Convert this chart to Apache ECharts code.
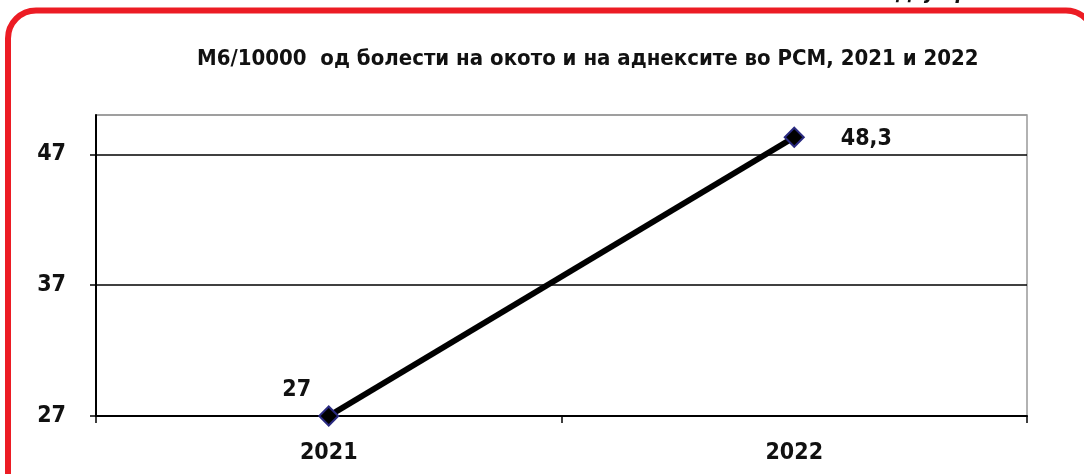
<!DOCTYPE html>
<html>
<head>
<meta charset="utf-8">
<script src="https://cdn.jsdelivr.net/npm/echarts@6/dist/echarts.min.js"></script>
<style>
  html, body { margin: 0; padding: 0; background: #fff; }
  #chart { width: 1084px; height: 474px; }
</style>
</head>
<body>
<div id="chart"></div>
<script>
// data
const years = ["2021", "2022"];
const values = [27, 48.3];
const yTicks = [27, 37, 47];

const font = "'DejaVu Sans Condensed', sans-serif";

const chart = echarts.init(document.getElementById("chart"));

const option = {
  animation: false,
  backgroundColor: "#fff",
  textStyle: { fontFamily: font },
  title: {
    text: "М6/10000  од болести на окото и на аднексите во РСМ, 2021 и 2022",
    left: 192,
    top: 43,
    textStyle: { fontSize: 22, fontWeight: "bold", color: "#111", fontFamily: font },
  },
  graphic: [
    {
      type: "rect",
      shape: { x: 8, y: 10.5, width: 1086, height: 500, r: 28 },
      style: { fill: "none", stroke: "#ec1c24", lineWidth: 6 },
      silent: true,
    },
    {
      type: "text",
      right: 54,
      top: -17,
      style: {
        text: "Дијаграм 18",
        font: "italic bold 21px " + font,
        fill: "#111",
      },
    },
  ],
  grid: {
    left: 96,
    right: 57,
    top: 115,
    bottom: 58,
    show: true,
    borderColor: "#999",
    borderWidth: 1.5,
  },
  xAxis: {
    type: "category",
    data: years,
    boundaryGap: true,
    axisLine: { lineStyle: { color: "#000", width: 2 } },
    axisTick: { show: true, length: 7, lineStyle: { color: "#000", width: 1.5 } },
    axisLabel: { color: "#111", fontSize: 23, fontWeight: "bold", margin: 26, fontFamily: font },
  },
  yAxis: {
    type: "value",
    min: yTicks[0],
    max: 50,
    interval: 10,
    axisLine: { show: true, lineStyle: { color: "#000", width: 2 } },
    axisTick: { show: true, length: 6, inside: false, lineStyle: { color: "#000", width: 1.5 } },
    axisLabel: {
      color: "#111",
      fontSize: 23,
      fontWeight: "bold",
      margin: 30,
      showMaxLabel: false,
      fontFamily: font,
    },
    splitLine: {
      show: true,
      lineStyle: { color: ["#000", "#000", "#000", "#999"], width: 1.5 },
    },
  },
  series: [
    {
      type: "line",
      data: values.map((v, i) => ({
        value: v,
        label: i === 0
          ? { position: "top", offset: [-32, 1] }
          : { position: "right", distance: 36, offset: [0, 2] },
      })),
      symbol: "diamond",
      symbolSize: 19,
      lineStyle: { color: "#000", width: 6 },
      itemStyle: { color: "#000", borderColor: "#2a2a80", borderWidth: 2 },
      label: {
        show: true,
        color: "#111",
        fontSize: 23,
        fontWeight: "bold",
        fontFamily: font,
        formatter: (p) => String(p.value).replace(".", ","),
      },
      z: 5,
    },
  ],
};

chart.setOption(option);
</script>
</body>
</html>
